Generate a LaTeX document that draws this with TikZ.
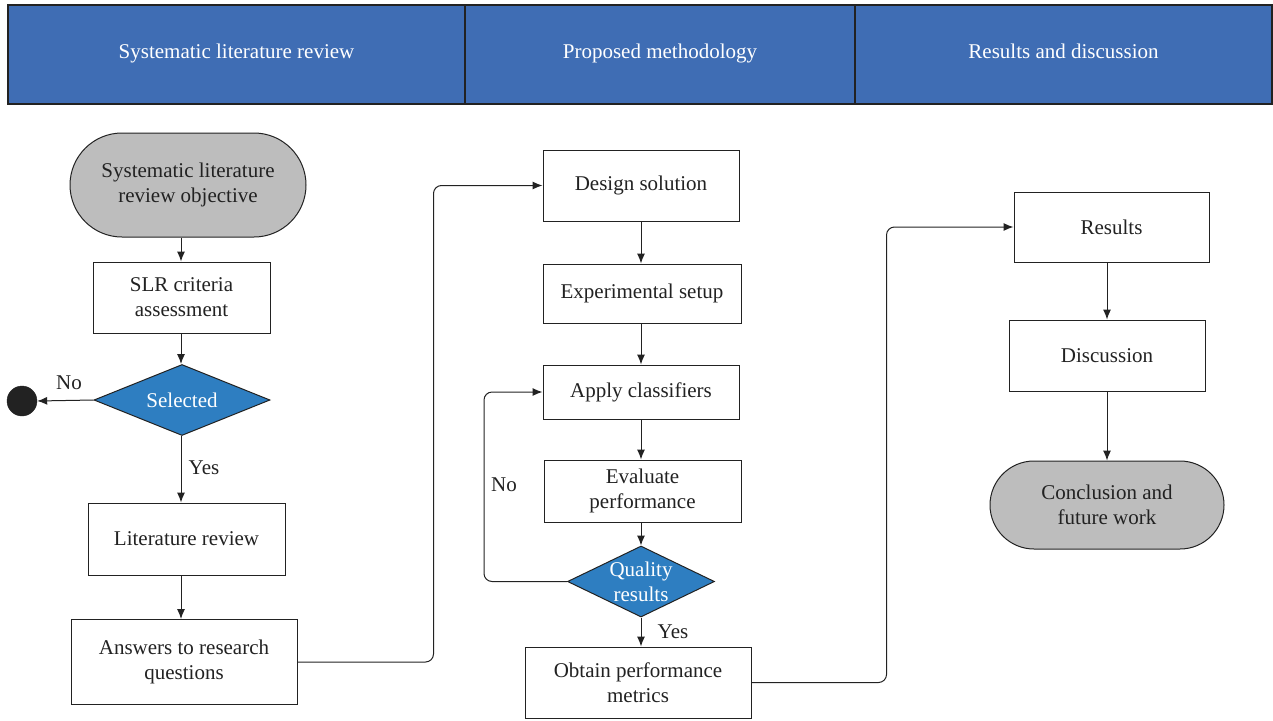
\documentclass[tikz,border=0pt]{standalone}
\usepackage{fontspec}
\setmainfont{Liberation Serif}
\usetikzlibrary{shapes.geometric,shapes.misc,arrows.meta,positioning}
\definecolor{hdr}{HTML}{3F6DB4}
\definecolor{dec}{HTML}{2E7EC1}
\definecolor{term}{HTML}{BDBDBD}
\definecolor{ln}{HTML}{222222}
\tikzset{
  every node/.style={font=\fontsize{21}{25}\selectfont, text=ln},
  hdrbox/.style={draw=ln, fill=hdr, line width=1.2pt, text=white, inner sep=0pt, text height=2.2ex, text depth=0.25ex},
  procbox/.style={draw=ln, fill=white, line width=1pt, align=center, inner sep=0pt},
  termbox/.style={rounded rectangle, draw=ln, fill=term, line width=1pt, align=center, inner sep=0pt},
  decbox/.style={diamond, draw=ln, fill=dec, line width=1pt, inner sep=0pt},
  dectext/.style={text=white, align=center, inner sep=0pt},
  arr/.style={draw=ln, line width=1pt, -{Latex[length=10pt,width=8pt]}},
  lbl/.style={inner sep=0pt}
}
\begin{document}
\begin{tikzpicture}[x=1pt,y=-1pt]
\useasboundingbox (0,0) rectangle (1273,720);
% header
\node[hdrbox, minimum width=457pt, minimum height=99pt] (h1) at (236.5,54.5) {Systematic literature review};
\node[hdrbox, minimum width=390pt, minimum height=99pt] (h2) at (660,54.5) {Proposed methodology};
\node[hdrbox, minimum width=417pt, minimum height=99pt] (h3) at (1063.5,54.5) {Results and discussion};
% left column
\node[termbox, minimum width=236pt, minimum height=104pt] (start) at (188,185) {Systematic literature\\review objective};
\node[procbox, minimum width=177pt, minimum height=71pt] (crit) at (181.5,297.5) {SLR criteria\\assessment};
\node[decbox, minimum width=176pt, minimum height=71pt] (sel) at (182,400) {};
\node[dectext] (selt) at (sel.center) {Selected};
\node[circle, fill=ln, draw=ln, minimum size=30pt, inner sep=0pt] (stop) at (22,401) {};
\node[procbox, minimum width=197pt, minimum height=72pt] (lit) at (186.5,539) {Literature review};
\node[procbox, minimum width=226pt, minimum height=85pt] (ans) at (184,662) {Answers to research\\questions};
\node[lbl] (no1) at (69,383) {No};
\node[lbl] (yes1) at (204,468) {Yes};
% middle column
\node[procbox, minimum width=196pt, minimum height=71pt] (design) at (641,185.5) {Design solution};
\node[procbox, minimum width=198pt, minimum height=59pt] (exp) at (642,293.5) {Experimental setup};
\node[procbox, minimum width=196pt, minimum height=54pt] (apply) at (641,392) {Apply classifiers};
\node[procbox, minimum width=197pt, minimum height=62pt] (eval) at (642.5,491) {Evaluate\\performance};
\node[decbox, minimum width=147pt, minimum height=71pt] (qual) at (641,581.5) {};
\node[dectext] (qualt) at (qual.center) {Quality\\results};
\node[procbox, minimum width=226pt, minimum height=71pt] (obt) at (638,682.5) {Obtain performance\\metrics};
\node[lbl] (no2) at (504,485) {No};
\node[lbl] (yes2) at (673,632) {Yes};
% right column
\node[procbox, minimum width=195pt, minimum height=70pt] (res) at (1111.5,227) {Results};
\node[procbox, minimum width=196pt, minimum height=71pt] (disc) at (1107,355.5) {Discussion};
\node[termbox, minimum width=234pt, minimum height=88pt] (conc) at (1107,505) {Conclusion and\\future work};
% connectors
\draw[arr] (start.south -| 181,0) -- (crit.north -| 181,0);
\draw[arr] (crit.south -| 181,0) -- (sel.north -| 181,0);
\draw[arr] (sel.west) -- (stop.east);
\draw[arr] (sel.south -| 181,0) -- (lit.north -| 181,0);
\draw[arr] (lit.south -| 181,0) -- (ans.north -| 181,0);
\draw[arr, rounded corners=8pt] (ans.east) -- ++(136,0) |- (design.west);
\draw[arr] (design.south) -- (exp.north -| design.south);
\draw[arr] (exp.south -| design.south) -- (apply.north);
\draw[arr] (apply.south) -- (eval.north -| apply.south);
\draw[arr] (eval.south -| apply.south) -- (qual.north);
\draw[arr] (qual.south) -- (obt.north -| qual.south);
\draw[arr, rounded corners=8pt] (qual.west) -- ++(-83,0) |- (apply.west);
\draw[arr, rounded corners=8pt] (obt.east) -- ++(135,0) |- (res.west);
\draw[arr] (res.south -| 1107,0) -- (disc.north);
\draw[arr] (disc.south) -- (conc.north);
\end{tikzpicture}
\end{document}
